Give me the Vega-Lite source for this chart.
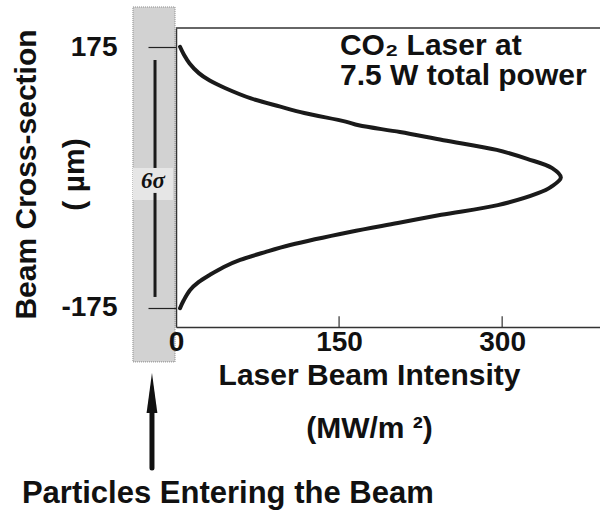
{
  "$schema": "https://vega.github.io/schema/vega-lite/v6.json",
  "width": 424,
  "height": 299,
  "autosize": {"type": "none"},
  "padding": {"left": 176, "top": 28, "right": 0, "bottom": 187},
  "background": "white",
  "config": {"view": {"stroke": null}, "font": "Liberation Sans"},
  "datasets": {
    "curve": [
      {"y": 175.3, "x": 3.7}, {"y": 165, "x": 7.2}, {"y": 153, "x": 12.5}, {"y": 140, "x": 21},
      {"y": 130, "x": 31}, {"y": 120, "x": 45}, {"y": 106, "x": 69}, {"y": 95, "x": 96},
      {"y": 86.5, "x": 118}, {"y": 75, "x": 156}, {"y": 70, "x": 168}, {"y": 61, "x": 206},
      {"y": 50, "x": 246}, {"y": 37, "x": 295}, {"y": 25, "x": 323}, {"y": 12.5, "x": 346},
      {"y": 0, "x": 354}, {"y": -12.5, "x": 345}, {"y": -21, "x": 333}, {"y": -37, "x": 296},
      {"y": -50, "x": 244}, {"y": -61, "x": 204}, {"y": -73, "x": 160}, {"y": -90.5, "x": 105},
      {"y": -100, "x": 82}, {"y": -110.6, "x": 59}, {"y": -120, "x": 44}, {"y": -130.7, "x": 31},
      {"y": -140, "x": 21}, {"y": -150.8, "x": 13}, {"y": -165, "x": 7}, {"y": -175.3, "x": 3.7}
    ],
    "band": [{"x": -39.6, "x2": -0.9, "y": 228.7, "y2": -247.3}],
    "patch": [{"x": -39.6, "x2": -2.8, "y": 12.8, "y2": -30.1}],
    "sigmaLine": [{"x": -19.3, "y": 157.6, "y2": 12.8}, {"x": -19.3, "y": -20.7, "y2": -160.2}],
    "sigmaLabel": [{"x": -21.2, "y": -4.6, "label": "6σ"}],
    "shaft": [{"x": -22.1, "y": -312, "y2": -389.5}],
    "head": [{"x": -22.1, "y": -288.9}],
    "bottomText": [{"x": -141.7, "y": -436.4, "label": "Particles Entering the Beam"}],
    "topFrame": [{"x": 0, "x2": 390, "y": 200.5}],
    "xTicks": [{"x": 150, "y": -200.5, "y2": -186}, {"x": 300, "y": -200.5, "y2": -186}],
    "note": [{"x": 150.8, "y": 164.3, "label": "CO₂ Laser at"}, {"x": 150.8, "y": 124.1, "label": "7.5 W total power"}]
  },
  "encoding": {
    "x": {
      "field": "x", "type": "quantitative",
      "scale": {"domain": [0, 390], "nice": false, "zero": false},
      "axis": {
        "values": [0, 150, 300], "ticks": false, "grid": false, "labelFlush": false,
        "labelPadding": 1, "labelFontSize": 28, "labelFontWeight": "bold", "labelColor": "#111",
        "labelFont": "Liberation Sans",
        "domainColor": "#333", "domainWidth": 1.5,
        "title": ["Laser Beam Intensity", "(MW/m ²)"],
        "titleFont": "Liberation Sans", "titleFontSize": 30, "titleFontWeight": "bold", "titleColor": "#111",
        "titleX": 193, "titleY": 57, "titleAlign": "center", "titleBaseline": "alphabetic", "titleLineHeight": 53,
        "zindex": 1
      }
    },
    "y": {
      "field": "y", "type": "quantitative",
      "scale": {"domain": [-200.5, 200.5], "nice": false, "zero": false},
      "axis": {
        "values": [-175, 175], "ticks": true, "tickSize": 28, "tickColor": "#222", "tickWidth": 1.2,
        "grid": false, "labelPadding": 31, "labelFontSize": 28, "labelFontWeight": "bold", "labelColor": "#111",
        "labelFont": "Liberation Sans",
        "labelExpr": "replace(datum.label, '−', '-')",
        "domainColor": "#333", "domainWidth": 1.5,
        "title": ["Beam Cross-section", "( µm)"],
        "titleFont": "Liberation Sans", "titleFontSize": 30, "titleFontWeight": "bold", "titleColor": "#111",
        "titleAngle": -90, "titleX": -141, "titleY": 146, "titleAlign": "center", "titleBaseline": "alphabetic",
        "titleLineHeight": 48,
        "zindex": 1
      }
    }
  },
  "layer": [
    {
      "data": {"name": "band"},
      "mark": {"type": "rect", "fill": "#d2d2d2", "stroke": "#8a8a8a", "strokeWidth": 1, "strokeDash": [1, 1]},
      "encoding": {"x2": {"field": "x2"}, "y2": {"field": "y2"}}
    },
    {
      "data": {"name": "patch"},
      "mark": {"type": "rect", "fill": "#e6e6e6"},
      "encoding": {"x2": {"field": "x2"}, "y2": {"field": "y2"}}
    },
    {
      "data": {"name": "sigmaLine"},
      "mark": {"type": "rule", "stroke": "#1a1a1a", "strokeWidth": 3},
      "encoding": {"y2": {"field": "y2"}}
    },
    {
      "data": {"name": "sigmaLabel"},
      "mark": {"type": "text", "font": "Liberation Serif", "fontStyle": "italic", "fontWeight": "bold", "fontSize": 23, "color": "#111", "align": "center", "baseline": "middle"},
      "encoding": {"text": {"field": "label"}}
    },
    {
      "data": {"name": "shaft"},
      "mark": {"type": "rule", "stroke": "#111", "strokeWidth": 5, "strokeCap": "round"},
      "encoding": {"y2": {"field": "y2"}}
    },
    {
      "data": {"name": "head"},
      "mark": {"type": "point", "shape": "M0,-1L0.27,1L-0.27,1Z", "size": 1600, "filled": true, "color": "#111", "opacity": 1},
      "encoding": {}
    },
    {
      "data": {"name": "bottomText"},
      "mark": {"type": "text", "fontSize": 31, "fontWeight": "bold", "color": "#111", "align": "left", "baseline": "alphabetic"},
      "encoding": {"text": {"field": "label"}}
    },
    {
      "data": {"name": "topFrame"},
      "mark": {"type": "rule", "stroke": "#333", "strokeWidth": 1.5},
      "encoding": {"x2": {"field": "x2"}}
    },
    {
      "data": {"name": "xTicks"},
      "mark": {"type": "rule", "stroke": "#333", "strokeWidth": 1.2},
      "encoding": {"y2": {"field": "y2"}}
    },
    {
      "data": {"name": "curve"},
      "mark": {"type": "line", "stroke": "#1a1a1a", "strokeWidth": 4, "interpolate": "catmull-rom", "strokeCap": "round"},
      "encoding": {"order": {"field": "y", "type": "quantitative"}}
    },
    {
      "data": {"name": "note"},
      "mark": {"type": "text", "fontSize": 30, "fontWeight": "bold", "color": "#111", "align": "left", "baseline": "alphabetic"},
      "encoding": {"text": {"field": "label"}}
    }
  ]
}
